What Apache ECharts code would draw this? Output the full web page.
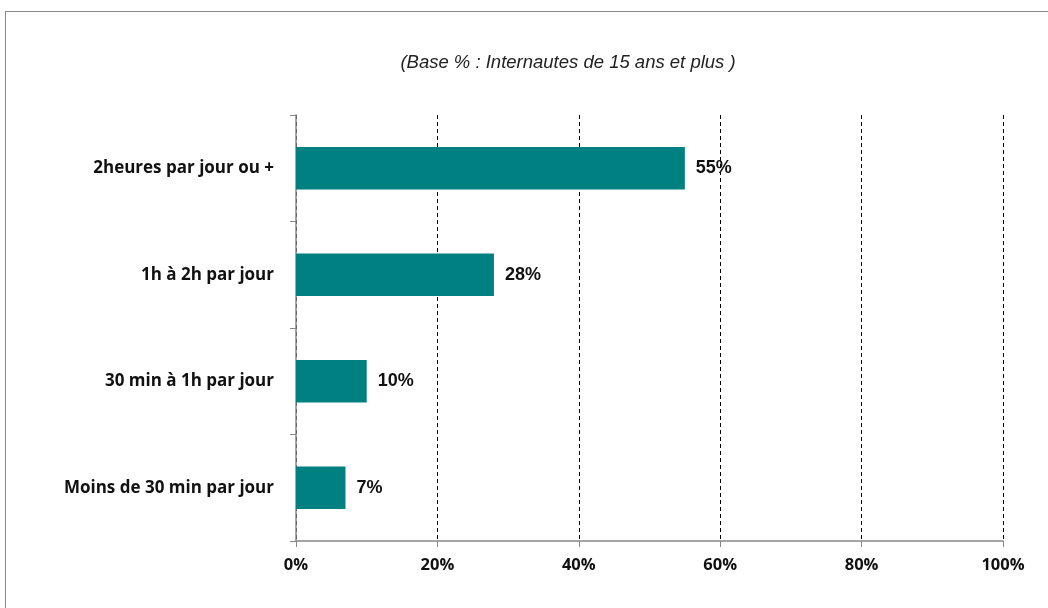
<!DOCTYPE html>
<html>
<head>
<meta charset="utf-8">
<script src="https://cdn.jsdelivr.net/npm/echarts@6/dist/echarts.min.js"></script>
<style>
  html, body { margin: 0; padding: 0; background: #fff; }
  #frame { position: absolute; left: 5px; top: 11px; width: 1100px; height: 700px;
           border-left: 1px solid #888; border-top: 1px solid #888; }
  #main { position: absolute; left: 0; top: 0; width: 1048px; height: 608px; }
</style>
</head>
<body>
<div id="frame"></div>
<div id="main"></div>
<script>
// durée d'utilisation d'internet par jour
var categories = ['Moins de 30 min par jour', '30 min à 1h par jour', '1h à 2h par jour', '2heures par jour ou +'];
var values = [7, 10, 28, 55];
var xTicks = [0, 20, 40, 60, 80, 100];

var chart = echarts.init(document.getElementById('main'));

var option = {
  animation: false,
  title: {
    text: '(Base % : Internautes de 15 ans et plus )',
    left: 563,
    top: 48,
    textAlign: 'center',
    textStyle: {
      fontFamily: 'Liberation Sans',
      fontStyle: 'italic',
      fontWeight: 'normal',
      fontSize: 18.5,
      color: '#222'
    }
  },
  grid: { left: 296, right: 45, top: 115, bottom: 67 },
  xAxis: {
    type: 'value',
    min: xTicks[0],
    max: xTicks[xTicks.length - 1],
    interval: 20,
    axisLine: { show: true, lineStyle: { color: '#888', width: 1.5 } },
    axisTick: { show: true, length: 6, lineStyle: { color: '#888' } },
    splitLine: { show: true, lineStyle: { color: '#000', type: [4, 3], width: 1 } },
    axisLabel: {
      formatter: '{value}%',
      margin: 16,
      fontFamily: 'Open Sans',
      fontWeight: 'bold',
      fontSize: 16.5,
      color: '#111'
    }
  },
  yAxis: {
    type: 'category',
    data: categories,
    axisLine: { show: true, lineStyle: { color: '#888', width: 1.5 } },
    axisTick: { show: true, length: 6, inside: false, lineStyle: { color: '#888' } },
    axisLabel: {
      margin: 22,
      fontFamily: 'Open Sans',
      fontWeight: 'bold',
      fontSize: 17,
      color: '#111'
    }
  },
  series: [{
    type: 'bar',
    data: values,
    barWidth: '40%',
    itemStyle: { color: '#008080' },
    label: {
      show: true,
      position: 'right',
      distance: 11,
      formatter: '{c}%',
      fontFamily: 'Liberation Sans',
      fontWeight: 'bold',
      fontSize: 18,
      color: '#111'
    }
  }]
};

chart.setOption(option);
</script>
</body>
</html>
